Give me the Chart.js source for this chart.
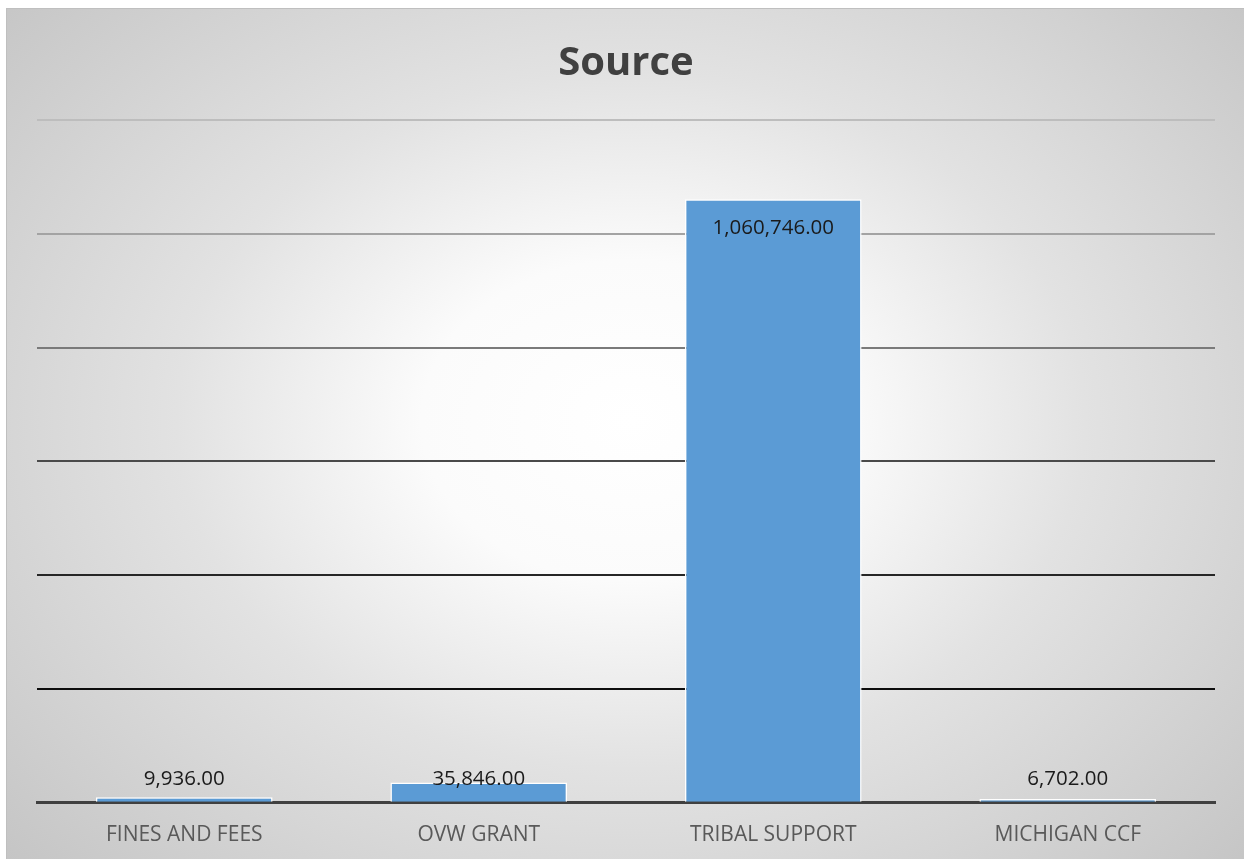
<!DOCTYPE html>
<html>
<head>
<meta charset="utf-8">
<script src="https://cdn.jsdelivr.net/npm/chart.js@4/dist/chart.umd.min.js"></script>
<style>
  html, body { margin: 0; padding: 0; background: #fff; }
  #bg {
    position: absolute; left: 6px; top: 8px; width: 1250px; height: 860px;
    border: 1px solid #bfbfbf; box-sizing: border-box;
    background: radial-gradient(ellipse 70% 78% at 50% 48%, #ffffff 0%, #fbfbfb 24%, #e2e2e2 52%, #c3c3c3 100%);
  }
  #wrap { position: absolute; left: 0; top: 0; width: 1244px; height: 859px; }
</style>
</head>
<body>
<div id="bg"></div>
<div id="wrap"><canvas id="chart"></canvas></div>
<script>
// data
const categories = ['FINES AND FEES', 'OVW GRANT', 'TRIBAL SUPPORT', 'MICHIGAN CCF'];
const amounts = [9936, 35846, 1060746, 6702];
const yMax = 1200000;
const yStep = 200000;

// grid lines get darker toward the bottom
const gridColors = ['rgba(0,0,0,0)', '#0d0d0d', '#262626', '#4a4a4a', '#7a7a7a', '#a3a3a3', '#bdbdbd'];

function fmt(v){
  return v.toLocaleString('en-US', {minimumFractionDigits: 2, maximumFractionDigits: 2});
}

// labels sit inside the top of a bar, or just above the axis when the bar is too short
const barLabels = {
  id: 'barLabels',
  afterDatasetsDraw(chart){
    const ctx = chart.ctx;
    const meta = chart.getDatasetMeta(0);
    const base = chart.scales.y.getPixelForValue(0);
    ctx.save();
    ctx.font = '20.5px "Open Sans", sans-serif';
    ctx.fillStyle = '#1a1a1a';
    ctx.textAlign = 'center';
    ctx.textBaseline = 'middle';
    meta.data.forEach((bar, i) => {
      const y = Math.min(bar.y + 29, base - 24);
      ctx.fillText(fmt(amounts[i]), bar.x, y);
    });
    ctx.restore();
  }
};

new Chart(document.getElementById('chart'), {
  type: 'bar',
  data: {
    labels: categories,
    datasets: [{
      data: amounts,
      backgroundColor: '#5b9bd5',
      borderColor: '#ffffff',
      borderWidth: 1.5,
      barPercentage: 0.6,
      categoryPercentage: 1
    }]
  },
  options: {
    responsive: true,
    maintainAspectRatio: false,
    animation: false,
    layout: { padding: { left: 37, right: 29, top: 0, bottom: 11 } },
    plugins: {
      legend: { display: false },
      tooltip: { enabled: false },
      title: {
        display: true,
        text: 'Source',
        color: '#404040',
        font: { family: '"Open Sans", sans-serif', size: 40, weight: 'bold' },
        padding: { top: 40, bottom: 32 }
      }
    },
    scales: {
      x: {
        grid: { display: false, drawTicks: true, tickLength: 20 },
        border: { display: true, color: '#404040', width: 3 },
        ticks: {
          color: '#595959',
          padding: 0,
          font: { family: '"Open Sans", sans-serif', size: 21 }
        }
      },
      y: {
        min: 0,
        max: yMax,
        border: { display: false },
        grid: {
          drawTicks: false,
          lineWidth: 2,
          color: c => gridColors[c.index] || '#bdbdbd'
        },
        ticks: { display: false, stepSize: yStep }
      }
    }
  },
  plugins: [barLabels]
});
</script>
</body>
</html>
